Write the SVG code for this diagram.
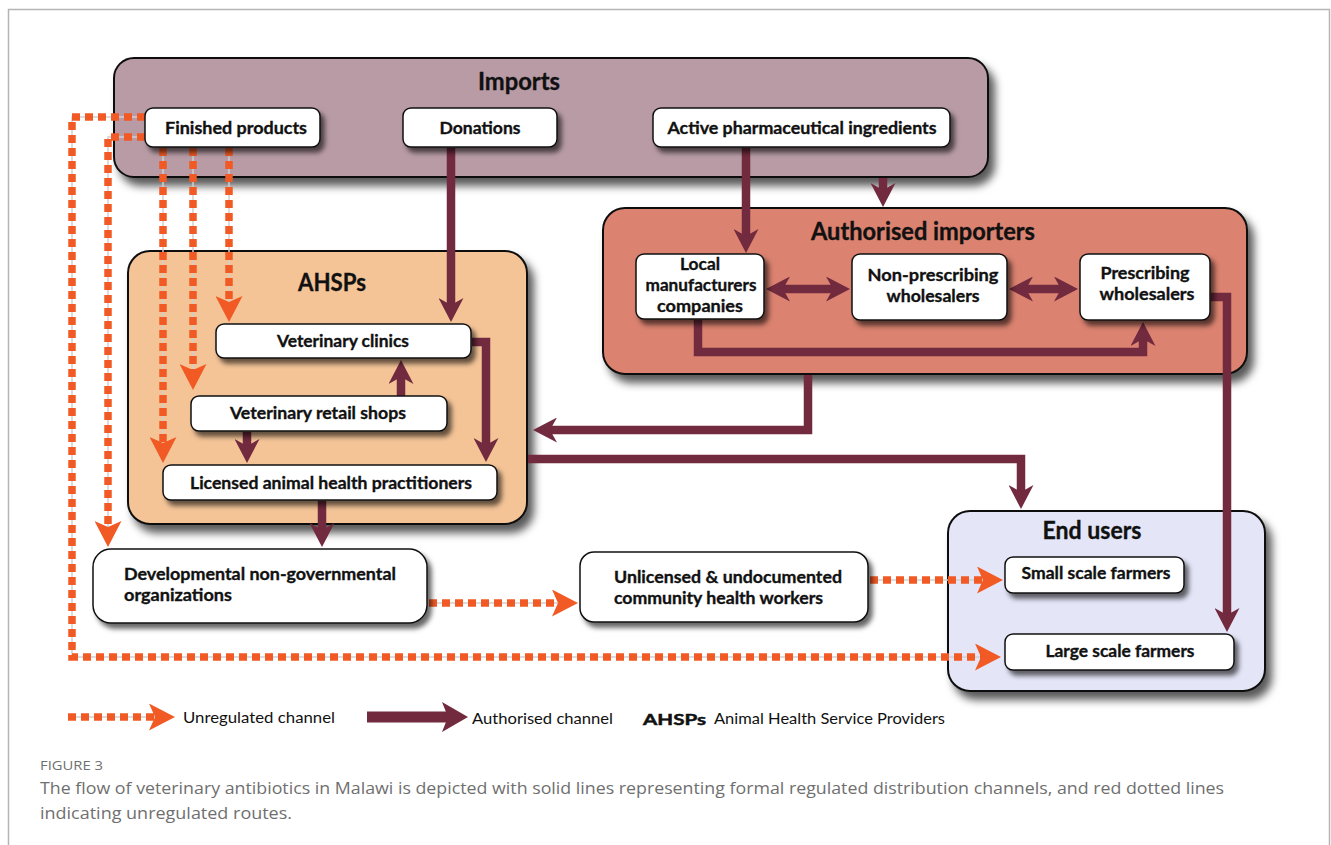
<svg xmlns="http://www.w3.org/2000/svg" width="1331" height="845" viewBox="0 0 1331 845">
<style>
.cont{stroke:#111;stroke-width:2;filter:url(#sh)}
.node{fill:#fff;stroke:#111;stroke-width:1.5;filter:url(#shs)}
.t{font-family:Lato,"Open Sans",sans-serif;font-weight:bold;fill:#111;stroke:#111;stroke-width:0.35}
.tt{font-size:24px;text-anchor:middle}
.nl{font-size:17.5px;text-anchor:middle}
.nll{font-size:17.5px}
.sol{fill:none;stroke:#722a3e;stroke-width:8.5;marker-end:url(#ah)}
.dbl{marker-start:url(#ahs)}
.ug{fill:none;stroke:#cfcfcf;stroke-width:1.5}
.ud{fill:none;stroke:#f15a24;stroke-width:7.5;stroke-dasharray:8 5;marker-end:url(#oh)}
.leg{font-family:Lato,"Open Sans",sans-serif;font-size:16px;fill:#111}
.cap{font-family:"Open Sans",Lato,sans-serif;fill:#6f6f6f}
</style>
<defs>
<filter id="sh" x="-10%" y="-10%" width="125%" height="130%">
<feDropShadow dx="6" dy="8" stdDeviation="4" flood-color="#000" flood-opacity="0.65"/>
</filter>
<filter id="shs" x="-10%" y="-20%" width="125%" height="150%">
<feDropShadow dx="4" dy="5" stdDeviation="2.5" flood-color="#000" flood-opacity="0.6"/>
</filter>
<marker id="ah" markerUnits="userSpaceOnUse" viewBox="0 0 24 25" markerWidth="24" markerHeight="25" refX="7" refY="12.5" orient="auto">
<path d="M0,0 L24,12.5 L0,25 L7,12.5 Z" fill="#722a3e"/>
</marker>
<marker id="ahs" markerUnits="userSpaceOnUse" viewBox="0 0 24 25" markerWidth="24" markerHeight="25" refX="7" refY="12.5" orient="auto-start-reverse">
<path d="M0,0 L24,12.5 L0,25 L7,12.5 Z" fill="#722a3e"/>
</marker>
<marker id="oh" markerUnits="userSpaceOnUse" viewBox="0 0 26 27" markerWidth="26" markerHeight="27" refX="6" refY="13.5" orient="auto">
<path d="M0,0 L26,13.5 L0,27 L6,13.5 Z" fill="#f15a24"/>
</marker>
<marker id="ahL" markerUnits="userSpaceOnUse" viewBox="0 0 26 30" markerWidth="26" markerHeight="30" refX="6" refY="15" orient="auto">
<path d="M0,0 L26,15 L0,30 L6,15 Z" fill="#722a3e"/>
</marker>
</defs>

<rect width="1331" height="845" fill="#fff"/>
<path d="M8.5,845 V9.5 H1329.5 V845" fill="none" stroke="#b5b5b5" stroke-width="1.5"/>

<!-- containers -->
<g id="imports">
<rect class="cont" x="114" y="58" width="874" height="119" rx="20" fill="#b89ba5"/>
<text class="t tt" x="519" y="90" textLength="82" lengthAdjust="spacingAndGlyphs">Imports</text>
</g>
<g id="authorised-importers">
<rect class="cont" x="603" y="208" width="644" height="166" rx="22" fill="#db8270"/>
<text class="t tt" x="923" y="240" textLength="224" lengthAdjust="spacingAndGlyphs">Authorised importers</text>
</g>
<g id="ahsps">
<rect class="cont" x="128" y="251" width="399" height="273" rx="22" fill="#f4c497"/>
<text class="t tt" x="332" y="291" textLength="68" lengthAdjust="spacingAndGlyphs">AHSPs</text>
</g>
<g id="end-users">
<rect class="cont" x="948" y="511" width="317" height="180" rx="22" fill="#e4e6f8"/>
<text class="t tt" x="1092" y="539" textLength="99" lengthAdjust="spacingAndGlyphs">End users</text>
</g>

<!-- connectors -->
<g id="connectors">
<path class="sol" d="M451,148 V305"/>
<path class="sol" d="M746,148 V236"/>
<path class="sol" d="M883,178 V190"/>
<path class="sol dbl" d="M783,289 H833"/>
<path class="sol dbl" d="M1026,289 H1061"/>
<path class="sol" d="M698,320 V352 H1143 V339"/>
<path class="sol" d="M1211,297 H1227 V615"/>
<path class="sol" d="M808,375 V430 H550"/>
<path class="sol" d="M472,342 H486 V445"/>
<path class="sol" d="M401,396 V377"/>
<path class="sol" d="M247,432 V446"/>
<path class="sol" d="M528,459 H1021 V492"/>
<path class="sol" d="M322,501 V530"/>

<path class="ug" d="M229,148 V302"/><path class="ud" d="M229,148 V302"/>
<path class="ug" d="M193,148 V370"/><path class="ud" d="M193,148 V370"/>
<path class="ug" d="M163,148 V443"/><path class="ud" d="M163,148 V443"/>
<path class="ug" d="M145,117 H72 V657 H981"/><path class="ud" d="M145,117 H72 V657 H981"/>
<path class="ug" d="M145,137 H108 V527"/><path class="ud" d="M145,137 H108 V527"/>
<path class="ug" d="M429,603 H558"/><path class="ud" d="M429,603 H558"/>
<path class="ug" d="M870,580 H983"/><path class="ud" d="M870,580 H983"/>
</g>

<!-- nodes -->
<g id="finished-products">
<rect class="node" x="145" y="108" width="175" height="39" rx="8"/>
<text class="t nl" x="236" y="134" textLength="142" lengthAdjust="spacingAndGlyphs">Finished products</text>
</g>
<g id="donations">
<rect class="node" x="403" y="108" width="154" height="39" rx="8"/>
<text class="t nl" x="480" y="134" textLength="81" lengthAdjust="spacingAndGlyphs">Donations</text>
</g>
<g id="api">
<rect class="node" x="653" y="108" width="297" height="39" rx="8"/>
<text class="t nl" x="802" y="134" textLength="269" lengthAdjust="spacingAndGlyphs">Active pharmaceutical ingredients</text>
</g>
<g id="local-manufacturers">
<rect class="node" x="636" y="254" width="128" height="65" rx="8"/>
<text class="t nl" x="700" y="270" textLength="40" lengthAdjust="spacingAndGlyphs">Local</text>
<text class="t nl" x="701" y="291" textLength="111" lengthAdjust="spacingAndGlyphs">manufacturers</text>
<text class="t nl" x="700" y="312" textLength="86" lengthAdjust="spacingAndGlyphs">companies</text>
</g>
<g id="non-prescribing">
<rect class="node" x="852" y="254" width="155" height="66" rx="8"/>
<text class="t nl" x="933" y="281" textLength="131" lengthAdjust="spacingAndGlyphs">Non-prescribing</text>
<text class="t nl" x="933" y="302" textLength="93" lengthAdjust="spacingAndGlyphs">wholesalers</text>
</g>
<g id="prescribing">
<rect class="node" x="1080" y="254" width="130" height="66" rx="8"/>
<text class="t nl" x="1145" y="279" textLength="89" lengthAdjust="spacingAndGlyphs">Prescribing</text>
<text class="t nl" x="1147" y="300" textLength="95" lengthAdjust="spacingAndGlyphs">wholesalers</text>
</g>
<g id="vet-clinics">
<rect class="node" x="216" y="324" width="255" height="34" rx="8"/>
<text class="t nl" x="343" y="347" textLength="132" lengthAdjust="spacingAndGlyphs">Veterinary clinics</text>
</g>
<g id="vet-retail">
<rect class="node" x="191" y="396" width="256" height="35" rx="8"/>
<text class="t nl" x="318" y="419" textLength="176" lengthAdjust="spacingAndGlyphs">Veterinary retail shops</text>
</g>
<g id="licensed">
<rect class="node" x="163" y="465" width="334" height="35" rx="8"/>
<text class="t nl" x="331" y="489" textLength="282" lengthAdjust="spacingAndGlyphs">Licensed animal health practitioners</text>
</g>
<g id="ngo">
<rect class="node" x="93" y="549" width="334" height="74" rx="18"/>
<text class="t nll" x="124" y="580" textLength="272" lengthAdjust="spacingAndGlyphs">Developmental non-governmental</text>
<text class="t nll" x="124" y="601" textLength="108" lengthAdjust="spacingAndGlyphs">organizations</text>
</g>
<g id="unlicensed">
<rect class="node" x="580" y="552" width="288" height="70" rx="14"/>
<text class="t nll" x="614" y="583" textLength="228" lengthAdjust="spacingAndGlyphs">Unlicensed &amp; undocumented</text>
<text class="t nll" x="614" y="604" textLength="209" lengthAdjust="spacingAndGlyphs">community health workers</text>
</g>
<g id="small-scale">
<rect class="node" x="1005" y="557" width="179" height="36" rx="8"/>
<text class="t nl" x="1096" y="579" textLength="149" lengthAdjust="spacingAndGlyphs">Small scale farmers</text>
</g>
<g id="large-scale">
<rect class="node" x="1005" y="634" width="229" height="36" rx="8"/>
<text class="t nl" x="1120" y="657" textLength="149" lengthAdjust="spacingAndGlyphs">Large scale farmers</text>
</g>

<!-- legend -->
<g id="legend">
<path class="ug" d="M68,717 H155"/>
<path class="ud" d="M68,717 H155"/>
<text class="leg" x="183" y="723" textLength="152" lengthAdjust="spacingAndGlyphs">Unregulated channel</text>
<path fill="none" stroke="#722a3e" stroke-width="11" marker-end="url(#ahL)" d="M367,717 H448"/>
<text class="leg" x="472" y="724" textLength="141" lengthAdjust="spacingAndGlyphs">Authorised channel</text>
<text class="leg" x="643" y="725" font-weight="bold" font-size="21" stroke="#111" stroke-width="0.5" textLength="63" lengthAdjust="spacingAndGlyphs">AHSPs</text>
<text class="leg" x="714" y="724" textLength="231" lengthAdjust="spacingAndGlyphs">Animal Health Service Providers</text>
</g>

<!-- caption -->
<g id="caption">
<text class="cap" x="40" y="770" font-size="13" textLength="63" lengthAdjust="spacingAndGlyphs">FIGURE 3</text>
<text class="cap" x="40" y="794" font-size="17" textLength="1184" lengthAdjust="spacingAndGlyphs">The flow of veterinary antibiotics in Malawi is depicted with solid lines representing formal regulated distribution channels, and red dotted lines</text>
<text class="cap" x="40" y="819" font-size="17" textLength="252" lengthAdjust="spacingAndGlyphs">indicating unregulated routes.</text>
</g>
</svg>
